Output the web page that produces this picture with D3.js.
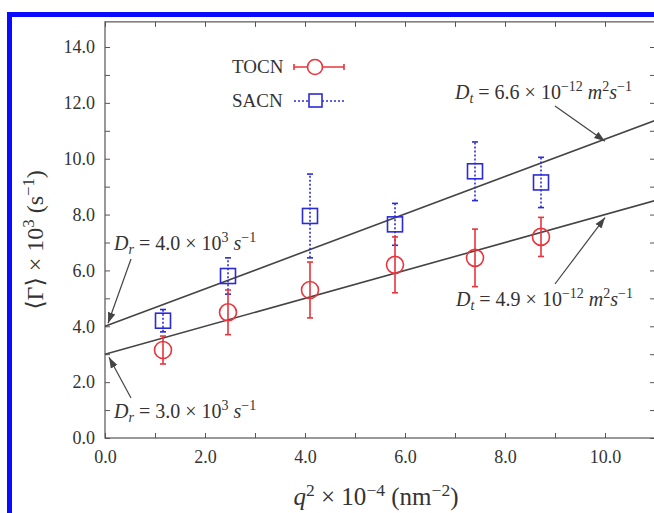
<!DOCTYPE html>
<html>
<head>
<meta charset="utf-8">
<script src="https://cdn.jsdelivr.net/npm/d3@7"></script>
<style>
  body { margin: 0; background: #fff; }
  svg { display: block; }
  .axis text { font-family: "Liberation Serif", "DejaVu Serif", serif; font-size: 18px; fill: #333; }
  .axis path, .axis line { stroke: #555; }
</style>
</head>
<body>
<div id="chart"></div>
<script>
// ---------------------------------------------
// ---------        Data                 --------
// ---------------------------------------------
var q2 = [1.16, 2.46, 4.1, 5.8, 7.4, 8.72];

var tocn    = [3.15, 4.5, 5.3, 6.2, 6.45, 7.2];
var tocnErr = [0.5, 0.8, 1.0, 1.0, 1.03, 0.7];

var sacn    = [4.2, 5.8, 7.95, 7.65, 9.55, 9.15];
var sacnErr = [0.4, 0.65, 1.5, 0.75, 1.05, 0.9];

// linear fits: intercept (D_r) and slope
var fitIntercept = [4.0, 3.0];
var fitSlope = [0.67, 0.50];

var xTicks = [0, 2, 4, 6, 8, 10];
var yTicks = [0, 2, 4, 6, 8, 10, 12, 14];
var xMinor = d3.range(0, 12, 1);
var yMinor = d3.range(0, 15, 1);

var width = 654, height = 513;
var red = "#e8343c", blue = "#2b2bd6", lineColor = "#444";
var serif = '"Liberation Serif", "DejaVu Serif", serif';

var svg = d3.select("#chart").append("svg")
  .attr("width", width)
  .attr("height", height);

// blue frame from the source page
svg.append("rect")
  .attr("x", 9.5).attr("y", 14.5)
  .attr("width", 700).attr("height", 600)
  .attr("fill", "none")
  .attr("stroke", "#0a0aff")
  .attr("stroke-width", 5);

// ---------------------------------------------
// ---------    Scales and axes          --------
// ---------------------------------------------
var x = d3.scaleLinear().domain([0, 11]).range([105, 655]);
var y = d3.scaleLinear().domain([0, 14]).range([438, 47]);
var yTop = y(14.9);

// plot box
svg.append("rect")
  .attr("x", x(0)).attr("y", yTop)
  .attr("width", x(11) - x(0)).attr("height", y(0) - yTop)
  .attr("fill", "none")
  .attr("stroke", "#555")
  .attr("stroke-width", 1.2);

// minor ticks (all sides, inward)
svg.append("g").attr("class", "axis")
  .attr("transform", "translate(0," + y(0) + ")")
  .call(d3.axisBottom(x).tickValues(xMinor).tickSize(-5).tickFormat(""))
  .call(g => g.select(".domain").remove());
svg.append("g").attr("class", "axis")
  .attr("transform", "translate(0," + yTop + ")")
  .call(d3.axisTop(x).tickValues(xMinor).tickSize(-5).tickFormat(""))
  .call(g => g.select(".domain").remove());
svg.append("g").attr("class", "axis")
  .attr("transform", "translate(" + x(0) + ",0)")
  .call(d3.axisLeft(y).tickValues(yMinor).tickSize(-5).tickFormat(""))
  .call(g => g.select(".domain").remove());
svg.append("g").attr("class", "axis")
  .attr("transform", "translate(" + x(11) + ",0)")
  .call(d3.axisRight(y).tickValues(yMinor).tickSize(-5).tickFormat(""))
  .call(g => g.select(".domain").remove());

// labelled axes
svg.append("g").attr("class", "axis")
  .attr("transform", "translate(0," + y(0) + ")")
  .call(d3.axisBottom(x).tickValues(xTicks).tickSize(0).tickPadding(12).tickFormat(d3.format(".1f")))
  .call(g => g.select(".domain").remove());
svg.append("g").attr("class", "axis")
  .attr("transform", "translate(" + x(0) + ",0)")
  .call(d3.axisLeft(y).tickValues(yTicks).tickSize(0).tickPadding(10).tickFormat(d3.format(".1f")))
  .call(g => g.select(".domain").remove());

// text with italic / superscript pieces
function richText(parent, px, py, parts, size, anchor) {
  var t = parent.append("text")
    .attr("x", px).attr("y", py)
    .attr("font-family", serif)
    .attr("font-size", size)
    .attr("fill", "#333")
    .attr("text-anchor", anchor || "start");
  var shift = 0;
  parts.forEach(function (p) {
    var newShift = p.sup ? -size * 0.38 : (p.sub ? size * 0.2 : 0);
    var dy = newShift - shift;
    shift = newShift;
    t.append("tspan")
      .attr("dy", dy)
      .attr("font-size", (p.sup || p.sub) ? size * 0.7 : size)
      .attr("font-style", p.i ? "italic" : "normal")
      .text(p.t);
  });
  return t;
}

// axis titles
richText(svg, 376, 505, [
  {t: "q", i: true}, {t: "2", sup: true}, {t: " × 10"}, {t: "−4", sup: true},
  {t: " (nm"}, {t: "−2", sup: true}, {t: ")"}
], 25, "middle");

var yl = svg.append("g").attr("transform", "translate(43,240) rotate(-90)");
richText(yl, 0, 0, [
  {t: "⟨Γ⟩ × 10"}, {t: "3", sup: true}, {t: " (s"}, {t: "−1", sup: true}, {t: ")"}
], 24, "middle");

// ---------------------------------------------
// ---------       Fit lines             --------
// ---------------------------------------------
fitIntercept.forEach(function (b, i) {
  svg.append("line")
    .attr("x1", x(0)).attr("y1", y(b))
    .attr("x2", x(11)).attr("y2", y(b + fitSlope[i] * 11))
    .attr("stroke", lineColor)
    .attr("stroke-width", 1.6);
});

// ---------------------------------------------
// ---------       Chart data            --------
// ---------------------------------------------
var tocnData = q2.map((d, i) => ({x: d, y: tocn[i], e: tocnErr[i]}));
var sacnData = q2.map((d, i) => ({x: d, y: sacn[i], e: sacnErr[i]}));

function errorBars(data, color, dash) {
  var g = svg.append("g").attr("stroke", color).attr("stroke-width", 1.6);
  g.selectAll("line.bar").data(data).join("line")
    .attr("class", "bar")
    .attr("x1", d => x(d.x)).attr("x2", d => x(d.x))
    .attr("y1", d => y(d.y - d.e)).attr("y2", d => y(d.y + d.e))
    .attr("stroke-dasharray", dash);
  g.selectAll("line.capTop").data(data).join("line")
    .attr("class", "capTop")
    .attr("x1", d => x(d.x) - 3).attr("x2", d => x(d.x) + 3)
    .attr("y1", d => y(d.y + d.e)).attr("y2", d => y(d.y + d.e));
  g.selectAll("line.capBot").data(data).join("line")
    .attr("class", "capBot")
    .attr("x1", d => x(d.x) - 3).attr("x2", d => x(d.x) + 3)
    .attr("y1", d => y(d.y - d.e)).attr("y2", d => y(d.y - d.e));
}

errorBars(sacnData, blue, "2,2");
svg.append("g").selectAll("rect").data(sacnData).join("rect")
  .attr("x", d => x(d.x) - 7.5).attr("y", d => y(d.y) - 7.5)
  .attr("width", 15).attr("height", 15)
  .attr("fill", "none").attr("stroke", blue).attr("stroke-width", 1.6);

errorBars(tocnData, red, null);
svg.append("g").selectAll("circle").data(tocnData).join("circle")
  .attr("cx", d => x(d.x)).attr("cy", d => y(d.y))
  .attr("r", 8.5)
  .attr("fill", "none").attr("stroke", red).attr("stroke-width", 1.6);

// ---------------------------------------------
// ---------       Legend                --------
// ---------------------------------------------
var legend = svg.append("g").attr("transform", "translate(232,0)");
legend.append("text").attr("x", 0).attr("y", 73)
  .attr("font-family", serif).attr("font-size", 19).attr("fill", "#333").text("TOCN");
legend.append("text").attr("x", 0).attr("y", 107)
  .attr("font-family", serif).attr("font-size", 19).attr("fill", "#333").text("SACN");

legend.append("line").attr("x1", 62).attr("x2", 112).attr("y1", 67).attr("y2", 67)
  .attr("stroke", red).attr("stroke-width", 1.6);
[62, 112].forEach(px => legend.append("line")
  .attr("x1", px).attr("x2", px).attr("y1", 64).attr("y2", 70)
  .attr("stroke", red).attr("stroke-width", 1.6));
legend.append("circle").attr("cx", 83).attr("cy", 67).attr("r", 7.5)
  .attr("fill", "#fff").attr("stroke", red).attr("stroke-width", 1.6);

legend.append("line").attr("x1", 62).attr("x2", 112).attr("y1", 101).attr("y2", 101)
  .attr("stroke", blue).attr("stroke-width", 1.6).attr("stroke-dasharray", "2,2");
legend.append("rect").attr("x", 77).attr("y", 94).attr("width", 13).attr("height", 13)
  .attr("fill", "#fff").attr("stroke", blue).attr("stroke-width", 1.6);

// ---------------------------------------------
// ---------       Annotations           --------
// ---------------------------------------------
svg.append("defs").append("marker")
  .attr("id", "arrow")
  .attr("viewBox", "0 0 10 10")
  .attr("refX", 10).attr("refY", 5)
  .attr("markerWidth", 9).attr("markerHeight", 9)
  .attr("orient", "auto-start-reverse")
  .append("path")
  .attr("d", "M0,1.5 L10,5 L0,8.5 Z")
  .attr("fill", lineColor);

function arrow(x1, y1, x2, y2) {
  svg.append("line")
    .attr("x1", x1).attr("y1", y1).attr("x2", x2).attr("y2", y2)
    .attr("stroke", lineColor).attr("stroke-width", 1.2)
    .attr("marker-end", "url(#arrow)");
}

var dtParts = v => [
  {t: "D", i: true}, {t: "t", i: true, sub: true}, {t: " = " + v + " × 10"},
  {t: "−12", sup: true}, {t: " m", i: true}, {t: "2", sup: true}, {t: "s", i: true}, {t: "−1", sup: true}
];
var drParts = v => [
  {t: "D", i: true}, {t: "r", i: true, sub: true}, {t: " = " + v + " × 10"},
  {t: "3", sup: true}, {t: " s", i: true}, {t: "−1", sup: true}
];

richText(svg, 455, 99, dtParts("6.6"), 20);
arrow(555, 106, x(10.0), y(4.0 + 0.67 * 10.0) + 2);

richText(svg, 456, 306, dtParts("4.9"), 20);
arrow(555, 284, x(10.0), y(3.0 + 0.50 * 10.0) + 3);

richText(svg, 114, 250, drParts("4.0"), 20);
arrow(131, 259, x(0) + 3, y(4.0) - 3);

richText(svg, 114, 418, drParts("3.0"), 20);
arrow(131, 398, x(0) + 4, y(3.0) + 3);
</script>
</body>
</html>
